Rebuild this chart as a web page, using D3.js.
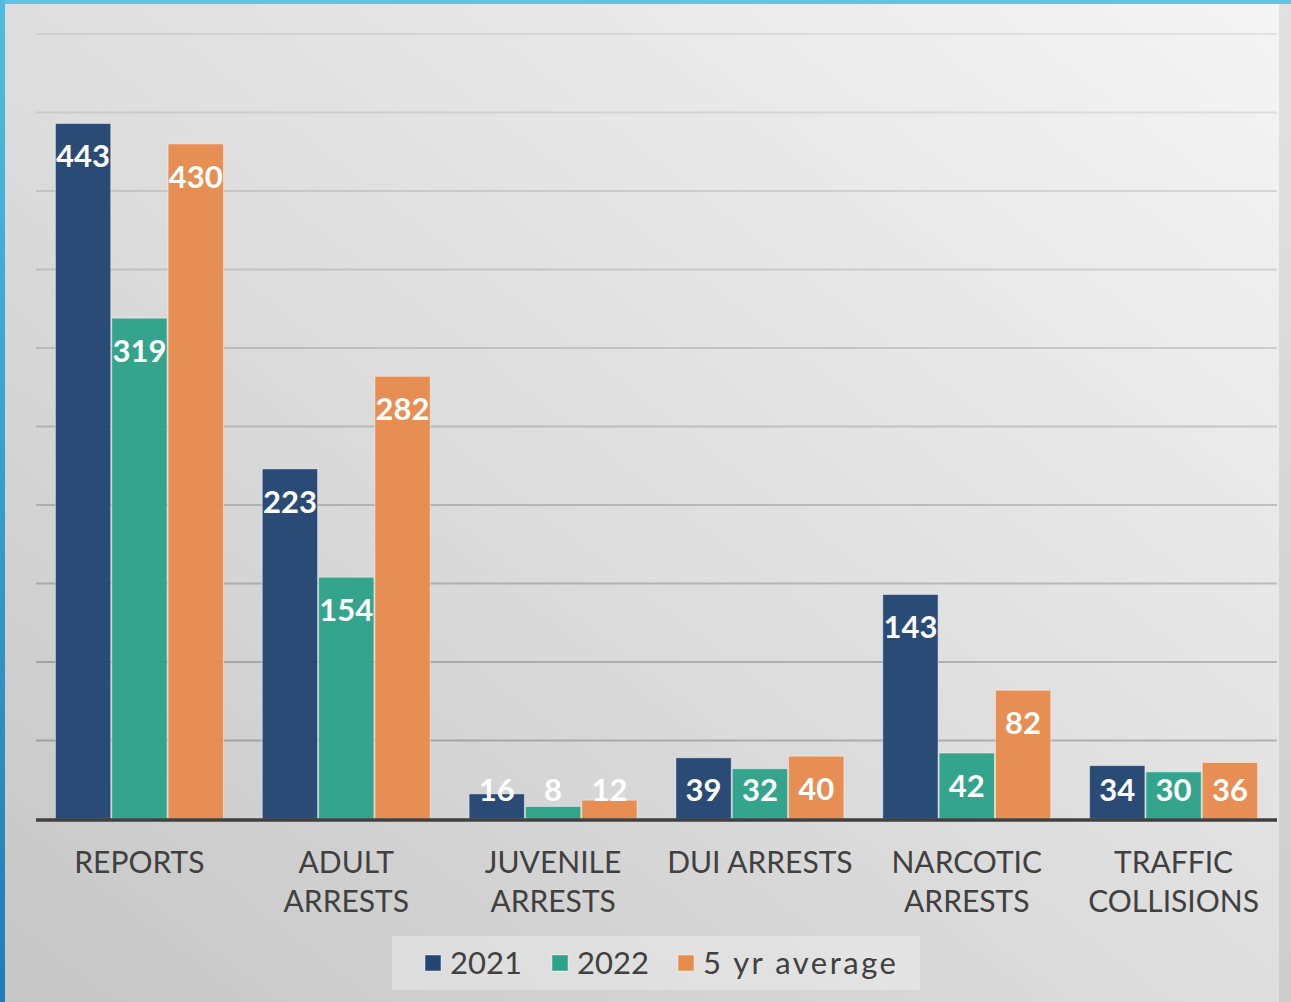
<!DOCTYPE html>
<html>
<head>
<meta charset="utf-8">
<script src="https://cdn.jsdelivr.net/npm/d3@7"></script>
<style>
  body { margin: 0; background: #ffffff; }
  svg { display: block; }
  .cat-label { font-family: "Century Gothic", Lato, "DejaVu Sans", sans-serif; font-size: 30px; fill: #404040; }
  .bar-label { font-family: "Century Gothic", Lato, "DejaVu Sans", sans-serif; font-size: 31px; font-weight: bold; fill: #ffffff; }
  .legend-text { font-family: "Century Gothic", Lato, "DejaVu Sans", sans-serif; font-size: 31px; fill: #404040; }
  .legend-wide { letter-spacing: 2.5px; }
</style>
</head>
<body>
<script>
// Chart data
var categories = [["REPORTS"], ["ADULT", "ARRESTS"], ["JUVENILE", "ARRESTS"], ["DUI ARRESTS"], ["NARCOTIC", "ARRESTS"], ["TRAFFIC", "COLLISIONS"]];
var seriesNames = ["2021", "2022", "5 yr average"];
var values2021 = [443, 223, 16, 39, 143, 34];
var values2022 = [319, 154, 8, 32, 42, 30];
var valuesAvg = [430, 282, 12, 40, 82, 36];
var gridTicks = [0, 50, 100, 150, 200, 250, 300, 350, 400, 450, 500];

var colors = ["#244673", "#2fa28a", "#e78b4f"];

// SVG area
var svgWidth = 1291;
var svgHeight = 1002;

var svg = d3.select("body")
  .append("svg")
  .attr("width", svgWidth)
  .attr("height", svgHeight);

var defs = svg.append("defs");

// background gradient, light at top right, darker at bottom left
var bg = defs.append("linearGradient")
  .attr("id", "bg")
  .attr("x1", "1").attr("y1", "0")
  .attr("x2", "0").attr("y2", "1");
bg.append("stop").attr("offset", "0%").attr("stop-color", "#f5f5f5");
bg.append("stop").attr("offset", "55%").attr("stop-color", "#dcdcdc");
bg.append("stop").attr("offset", "100%").attr("stop-color", "#c6c6c6");

var edge = defs.append("linearGradient")
  .attr("id", "edge")
  .attr("x1", "0").attr("y1", "0")
  .attr("x2", "0").attr("y2", "1");
edge.append("stop").attr("offset", "0%").attr("stop-color", "#4fbde0");
edge.append("stop").attr("offset", "100%").attr("stop-color", "#1f7db5");

svg.append("rect")
  .attr("width", svgWidth)
  .attr("height", svgHeight)
  .attr("fill", "url(#bg)");

// right side shadow strip
svg.append("rect")
  .attr("x", 1279).attr("y", 0)
  .attr("width", 12).attr("height", svgHeight)
  .attr("fill", "#000").attr("fill-opacity", 0.08);

// blue frame on top and left
svg.append("rect")
  .attr("x", 0).attr("y", 0)
  .attr("width", svgWidth).attr("height", 4)
  .attr("fill", "#5ec5e3");
svg.append("rect")
  .attr("x", 0).attr("y", 0)
  .attr("width", 5).attr("height", svgHeight)
  .attr("fill", "url(#edge)");

// Chart area
var margin = { top: 34, left: 36, right: 14, bottom: 183 };
var chartBottom = svgHeight - margin.bottom;   // 819
var chartRight = svgWidth - margin.right;      // 1277

var xScale = d3.scaleBand()
  .domain(d3.range(categories.length))
  .range([margin.left, chartRight])
  .paddingInner(0.183)
  .paddingOuter(0.0915);

var xSub = d3.scaleBand()
  .domain(d3.range(seriesNames.length))
  .range([0, xScale.bandwidth()]);

var yScale = d3.scaleLinear()
  .domain([0, 500])
  .range([chartBottom, margin.top]);

var gridShade = d3.scaleLinear()
  .domain([500, 0])
  .range([0.07, 0.24]);

// gridlines
svg.append("g")
  .selectAll("line")
  .data(gridTicks.filter(d => d > 0))
  .enter()
  .append("line")
  .attr("x1", margin.left)
  .attr("x2", chartRight)
  .attr("y1", d => yScale(d))
  .attr("y2", d => yScale(d))
  .attr("stroke", "#000")
  .attr("stroke-opacity", d => gridShade(d))
  .attr("stroke-width", 2);

// bars
var allSeries = [values2021, values2022, valuesAvg];
var barData = [];
categories.forEach(function(c, i) {
  allSeries.forEach(function(s, j) {
    barData.push({ cat: i, series: j, value: s[i] });
  });
});

var bars = svg.append("g");
bars.selectAll("rect")
  .data(barData)
  .enter()
  .append("rect")
  .attr("x", d => xScale(d.cat) + xSub(d.series) + 0.5)
  .attr("y", d => yScale(d.value))
  .attr("width", xSub.bandwidth() - 1)
  .attr("height", d => chartBottom - yScale(d.value))
  .attr("fill", d => colors[d.series])
  .attr("fill-opacity", 0.97)
  .attr("stroke", "#ffffff")
  .attr("stroke-opacity", 0.45)
  .attr("stroke-width", 1);

// value labels (inside end, kept above the axis for short bars)
bars.selectAll("text")
  .data(barData)
  .enter()
  .append("text")
  .attr("class", "bar-label")
  .attr("text-anchor", "middle")
  .attr("x", d => xScale(d.cat) + xSub(d.series) + xSub.bandwidth() / 2)
  .attr("y", d => Math.min(yScale(d.value) + 44, chartBottom - 18))
  .text(d => d.value);

// axis line
svg.append("line")
  .attr("x1", margin.left)
  .attr("x2", chartRight)
  .attr("y1", chartBottom + 1)
  .attr("y2", chartBottom + 1)
  .attr("stroke", "#404040")
  .attr("stroke-width", 3.5);

// category labels
var catLabels = svg.append("g")
  .selectAll("text")
  .data(categories)
  .enter()
  .append("text")
  .attr("class", "cat-label")
  .attr("text-anchor", "middle")
  .attr("x", (d, i) => xScale(i) + xScale.bandwidth() / 2)
  .attr("y", 873);

catLabels.selectAll("tspan")
  .data(d => d)
  .enter()
  .append("tspan")
  .attr("x", function() { return d3.select(this.parentNode).attr("x"); })
  .attr("dy", (d, i) => i === 0 ? 0 : 39)
  .text(d => d);

// legend
var legend = svg.append("g");
legend.append("rect")
  .attr("x", 392).attr("y", 936)
  .attr("width", 528).attr("height", 54)
  .attr("fill", "#ffffff")
  .attr("fill-opacity", 0.3);

var legendX = [425, 552, 678];
var legendItems = legend.selectAll("g")
  .data(seriesNames)
  .enter()
  .append("g")
  .attr("transform", (d, i) => `translate(${legendX[i]}, 0)`);

legendItems.append("rect")
  .attr("x", 0).attr("y", 955)
  .attr("width", 16).attr("height", 16)
  .attr("fill", (d, i) => colors[i])
  .attr("stroke", "#ffffff")
  .attr("stroke-opacity", 0.45);

legendItems.append("text")
  .attr("class", (d, i) => i === 2 ? "legend-text legend-wide" : "legend-text")
  .attr("x", 25)
  .attr("y", 974)
  .text(d => d);
</script>
</body>
</html>
